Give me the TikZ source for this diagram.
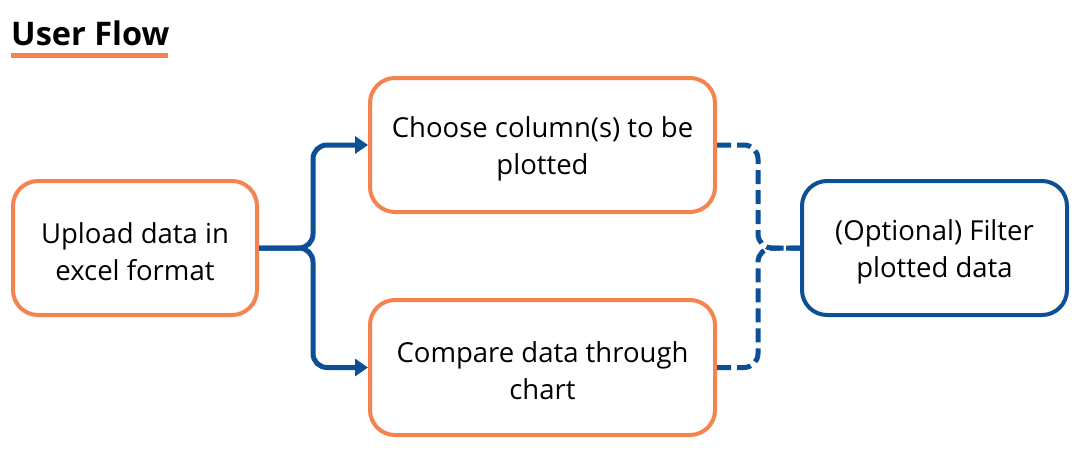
\documentclass[tikz,border=0pt]{standalone}
\usepackage{fontspec}
\setmainfont{Open Sans}
\usetikzlibrary{arrows.meta}
\definecolor{orng}{HTML}{F5834F}
\definecolor{blu}{HTML}{0B4F97}
\begin{document}
\begin{tikzpicture}[x=1pt,y=-1pt,
  box/.style={draw=orng,line width=4pt,rounded corners=25pt,fill=white,inner sep=0pt},
  txt/.style={align=center,font=\fontsize{27.5}{37}\selectfont,inner sep=0pt,yshift=-3.5pt},
  bbox/.style={box,draw=blu},
  flow/.style={draw=blu,line width=5pt,rounded corners=14pt},
  dflow/.style={flow,dash pattern=on 14pt off 6pt}]
\useasboundingbox (0,0) rectangle (1085,453);
\node[anchor=base west,font=\fontsize{32.5}{36}\bfseries\selectfont,inner sep=0pt] (title) at (11,45) {User Flow};
\draw[orng,line width=5pt] (title.south west |- 0,55.5) -- (168,55.5);
\node[box,minimum width=244pt,minimum height=134pt,
  label={[txt]center:Upload data in\\excel format}] (A) at (135,248) {};
\node[box,minimum width=345pt,minimum height=134pt,
  label={[txt]center:Choose column(s) to be\\plotted}] (B) at (542.5,145) {};
\node[box,minimum width=345pt,minimum height=135pt,
  label={[txt]center:Compare data through\\chart}] (C) at (542.5,367.5) {};
\node[bbox,minimum width=265pt,minimum height=134pt,
  label={[txt]center:(Optional) Filter\\plotted data}] (D) at (934.5,248) {};
\coordinate (j) at (313,248);
\coordinate (k) at (758,248);
\draw[flow,-{Triangle[length=13pt,width=17pt]}] (A.east) -- (j) |- (B.west);
\draw[flow,-{Triangle[length=13pt,width=17pt]}] (A.east) -- (j) |- (C.west);
\draw[dflow] (B.east) -| (k) -- (D.west);
\draw[dflow] (C.east) -| (k) -- (D.west);
\end{tikzpicture}
\end{document}
